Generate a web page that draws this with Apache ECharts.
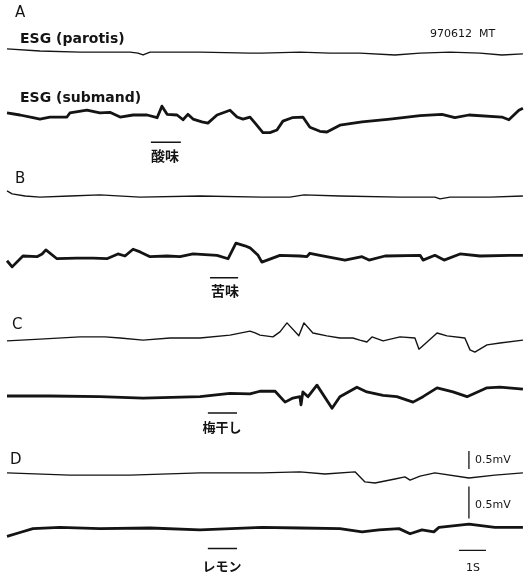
<!DOCTYPE html>
<html>
<head>
<meta charset="utf-8">
<script src="https://cdn.jsdelivr.net/npm/echarts@6/dist/echarts.min.js"></script>
<style>
  html, body { margin: 0; background: #fff; }
  #chart { width: 524px; height: 576px; }
</style>
</head>
<body>
<div id="chart"></div>
<script>
// [time (s), amplitude (mV, relative to baseline)]
const aParotis = [[0,0.06],[1.22,0],[2.70,-0.03],[4.56,-0.03],[4.85,-0.06],[5.04,-0.11],[5.30,-0.03],[6.04,-0.03],[7.15,-0.03],[9.00,-0.06],[9.44,-0.06],[10.85,-0.03],[11.96,-0.06],[13.07,-0.06],[14.37,-0.11],[15.30,-0.06],[16.41,-0.03],[17.52,-0.06],[18.33,-0.11],[19.11,-0.08]]
const aSubmand = [[0,0.03],[0.48,0],[0.96,-0.04],[1.22,-0.06],[1.59,-0.03],[2.22,-0.03],[2.33,0.03],[2.96,0.07],[3.44,0.03],[3.81,0.04],[4.19,-0.03],[4.67,0],[5.19,0],[5.56,-0.04],[5.74,0.13],[5.93,0.01],[6.30,0],[6.52,-0.07],[6.70,0.01],[6.89,-0.06],[7.22,-0.10],[7.44,-0.12],[7.78,0],[8.26,0.07],[8.52,-0.03],[8.74,-0.06],[9.00,-0.03],[9.19,-0.12],[9.48,-0.26],[9.74,-0.26],[10.0,-0.22],[10.22,-0.09],[10.56,-0.04],[10.96,-0.03],[11.22,-0.18],[11.59,-0.24],[11.85,-0.25],[12.33,-0.15],[13.15,-0.10],[14.19,-0.06],[15.30,-0.01],[16.11,0.01],[16.59,-0.04],[17.11,0],[18.33,-0.03],[18.59,-0.07],[18.96,0.07],[19.11,0.10]]
const bParotis = [[0,0.14],[0.19,0.06],[0.67,0],[1.22,-0.03],[2.33,0],[3.44,0.03],[4.93,-0.03],[7.15,0],[9.44,-0.03],[10.48,-0.03],[11.0,0.03],[12.33,0],[14.56,-0.03],[15.85,-0.03],[16.04,-0.08],[16.41,-0.03],[17.89,-0.03],[19.11,0]]
const bSubmand = [[0,-0.07],[0.19,-0.16],[0.59,0],[1.11,-0.01],[1.30,0.03],[1.44,0.09],[1.85,-0.04],[2.59,-0.03],[3.19,-0.03],[3.70,-0.04],[4.11,0.03],[4.37,0],[4.67,0.10],[4.93,0.06],[5.30,-0.01],[5.93,0],[6.41,-0.01],[6.89,0.03],[7.78,0.01],[8.19,-0.04],[8.48,0.19],[8.81,0.15],[9.0,0.12],[9.30,0.01],[9.44,-0.09],[10.11,0.01],[10.85,0],[11.11,-0.01],[11.22,0.04],[11.59,0.01],[12.52,-0.06],[13.15,-0.01],[13.41,-0.06],[14.0,0],[15.30,0.01],[15.41,-0.06],[15.85,0.01],[16.19,-0.06],[16.78,0.03],[17.52,0],[18.63,0.01],[19.11,0.01]]
const cParotis = [[0,-0.08],[1.22,-0.03],[2.70,0.03],[3.63,0.03],[4.19,0],[5.04,-0.06],[6.04,0],[7.15,0],[8.26,0.08],[9.0,0.19],[9.19,0.14],[9.37,0.08],[9.85,0.03],[10.11,0.17],[10.37,0.42],[10.81,0.06],[11.0,0.42],[11.33,0.14],[11.85,0.06],[12.33,0],[12.81,0],[13.07,-0.06],[13.33,-0.11],[13.52,0.03],[13.93,-0.08],[14.56,0.03],[15.11,0],[15.26,-0.31],[15.56,-0.11],[15.93,0.14],[16.30,0.06],[16.96,0],[17.15,-0.33],[17.33,-0.39],[17.78,-0.19],[18.26,-0.14],[19.11,-0.06]]
const cSubmand = [[0,0],[1.59,0],[3.44,-0.01],[5.04,-0.03],[7.15,-0.01],[8.26,0.04],[9.0,0.03],[9.37,0.07],[9.93,0.07],[10.30,-0.09],[10.59,-0.03],[10.85,-0.01],[10.89,-0.13],[10.96,0.06],[11.15,-0.01],[11.48,0.16],[12.04,-0.18],[12.33,-0.01],[12.96,0.13],[13.33,0.06],[13.93,0.01],[14.44,-0.01],[15.04,-0.09],[15.41,-0.01],[15.93,0.12],[16.52,0.06],[17.04,-0.01],[17.78,0.12],[18.26,0.13],[19.11,0.10]]
const dParotis = [[0,0.03],[2.33,-0.03],[4.56,-0.03],[7.15,0.03],[9.44,0.03],[10.85,0.06],[11.78,0],[12.89,0.06],[12.96,0.03],[13.26,-0.22],[13.63,-0.25],[14.37,-0.14],[14.74,-0.08],[14.93,-0.17],[15.30,-0.06],[15.85,0.03],[17.11,-0.11],[18.07,-0.03],[19.11,0.03]]
const dSubmand = [[0,-0.13],[0.48,-0.07],[0.96,-0.01],[1.96,0.01],[3.44,-0.01],[5.30,0],[7.15,-0.03],[9.44,0.01],[10.85,0],[12.33,-0.01],[13.15,-0.06],[13.78,-0.03],[14.52,-0.01],[14.93,-0.09],[15.37,-0.03],[15.81,-0.06],[16.0,0.01],[17.11,0.06],[18.07,0.01],[19.11,0.01]]

const panels = ['A', 'B', 'C', 'D']
const stimNames = ['酸味', '苦味', '梅干し', 'レモン']
const stimOn = [5.33, 7.52, 7.44, 7.44]
const stimOff = [6.44, 8.56, 8.52, 8.52]
const stimLevel = [-0.40, -0.32, -0.25, -0.32]
const scaleTime = [16.74, 17.74]   // 1 s bar
const scaleVolt = [0.14, 0.64]     // 0.5 mV bar (parotis)
const scaleVoltSub = [0.15, 0.65]  // 0.5 mV bar (submand)

// layout (pixel row of each baseline)
const parotisRow = [51, 196, 338, 474]
const submandRow = [115, 256, 396, 531]
const tMax = 19.15
const ink = '#141414'

const parotisData = [aParotis, bParotis, cParotis, dParotis]
const submandData = [aSubmand, bSubmand, cSubmand, dSubmand]

const grid = [], xAxis = [], yAxis = [], series = []
function addGrid(row, half) {
  grid.push({ left: 7, width: 517, top: row - half, height: half * 2 })
  const i = grid.length - 1
  xAxis.push({ type: 'value', gridIndex: i, min: 0, max: tMax, show: false })
  yAxis.push({ type: 'value', gridIndex: i, min: -0.75, max: 0.75, show: false })
  return i
}
function line(idx, data, width) {
  series.push({
    type: 'line', xAxisIndex: idx, yAxisIndex: idx, data: data,
    showSymbol: false, silent: true, animation: false,
    lineStyle: { color: ink, width: width, join: 'round' }
  })
}

for (let p = 0; p < 4; p++) {
  const gp = addGrid(parotisRow[p], 27)   // 0.5 mV = 18 px
  const gs = addGrid(submandRow[p], 51)   // 0.5 mV = 34 px
  line(gp, parotisData[p], 1.4)
  line(gs, submandData[p], 2.8)
  line(gs, [[stimOn[p], stimLevel[p]], [stimOff[p], stimLevel[p]]], 1.4)
  if (p === 3) {
    line(gp, [[17.11, scaleVolt[0]], [17.11, scaleVolt[1]]], 1.3)
    line(gs, [[17.11, scaleVoltSub[0]], [17.11, scaleVoltSub[1]]], 1.3)
    line(gs, [[scaleTime[0], -0.35], [scaleTime[1], -0.35]], 1.4)
  }
}

const latin = '"DejaVu Sans"'
const cjk = '"Noto Sans CJK JP"'
function text(x, y, s, font, align) {
  return { type: 'text', x: x, y: y, silent: true,
    style: { text: s, font: font, fill: ink, align: align || 'left', verticalAlign: 'middle' } }
}
const graphic = [
  text(15, 13, panels[0], '15px ' + latin),
  text(15, 179, panels[1], '15px ' + latin),
  text(12, 325, panels[2], '15px ' + latin),
  text(10, 460, panels[3], '15px ' + latin),
  text(20, 39, 'ESG (parotis)', 'bold 14px ' + latin),
  text(20, 98, 'ESG (submand)', 'bold 14px ' + latin),
  text(430, 34, '970612  MT', '11px ' + latin),
  text(165, 156, stimNames[0], 'bold 14px ' + cjk, 'center'),
  text(225, 291, stimNames[1], 'bold 14px ' + cjk, 'center'),
  text(222, 427, stimNames[2], 'bold 13px ' + cjk, 'center'),
  text(222, 566, stimNames[3], 'bold 13px ' + cjk, 'center'),
  text(475, 460, '0.5mV', '11px ' + latin),
  text(475, 505, '0.5mV', '11px ' + latin),
  text(473, 568, '1S', '11px ' + latin, 'center')
]

const chart = echarts.init(document.getElementById('chart'))
chart.setOption({
  backgroundColor: '#fff',
  animation: false,
  grid: grid,
  xAxis: xAxis,
  yAxis: yAxis,
  series: series,
  graphic: graphic
})
</script>
</body>
</html>
